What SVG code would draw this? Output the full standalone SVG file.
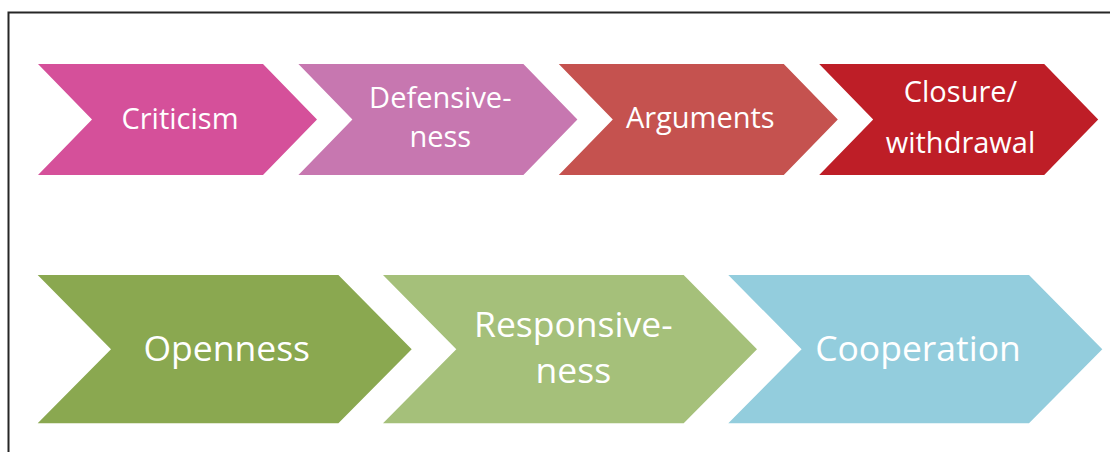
<svg xmlns="http://www.w3.org/2000/svg" width="1110" height="452" viewBox="0 0 1110 452">
  <style>
    .lbl { font-family: "Open Sans", "Noto Sans", sans-serif; fill: #ffffff; text-anchor: middle; }
    .sm { font-size: 29px; }
    .lg { font-size: 35.5px; }
  </style>
  <defs>
    <!-- chevron shapes at origin; placed with translate -->
    <path id="chev-top" d="M0,0 H225 L279,55.5 L225,111 H0 L54,55.5 Z"/>
    <path id="chev-bot" d="M0,0 H300.7 L374,74.2 L300.7,148.3 H0 L73.3,74.2 Z"/>
  </defs>

  <rect width="1110" height="452" fill="#ffffff"/>
  <!-- frame: left and top edges only are in view -->
  <rect x="8.5" y="12.5" width="1200" height="600" fill="none" stroke="#262626" stroke-width="2"/>

  <g id="connectors"/>

  <!-- top row: escalation -->
  <g id="criticism">
    <use href="#chev-top" x="38" y="64" fill="#D5509A"/>
    <text class="lbl sm" x="180" y="129">Criticism</text>
  </g>
  <g id="defensiveness">
    <use href="#chev-top" x="298.4" y="64" fill="#C777B0"/>
    <text class="lbl sm" x="440.3" y="108.3">Defensive-</text>
    <text class="lbl sm" x="440.3" y="146.7">ness</text>
  </g>
  <g id="arguments">
    <use href="#chev-top" x="558.8" y="64" fill="#C5524F"/>
    <text class="lbl sm" x="700.3" y="128.3">Arguments</text>
  </g>
  <g id="closure">
    <use href="#chev-top" x="819.2" y="64" fill="#BE1E27"/>
    <text class="lbl sm" x="960.5" y="102.3">Closure/</text>
    <text class="lbl sm" x="960.5" y="153.3">withdrawal</text>
  </g>

  <!-- bottom row: de-escalation -->
  <g id="openness">
    <use href="#chev-bot" x="37.7" y="275" fill="#8AA850"/>
    <text class="lbl lg" x="226.7" y="360.7">Openness</text>
  </g>
  <g id="responsiveness">
    <use href="#chev-bot" x="383" y="275" fill="#A5C07A"/>
    <text class="lbl lg" x="573.3" y="336.7">Responsive-</text>
    <text class="lbl lg" x="573.3" y="383.3">ness</text>
  </g>
  <g id="cooperation">
    <use href="#chev-bot" x="728.3" y="275" fill="#93CDDD"/>
    <text class="lbl lg" x="918" y="360.7">Cooperation</text>
  </g>
</svg>
